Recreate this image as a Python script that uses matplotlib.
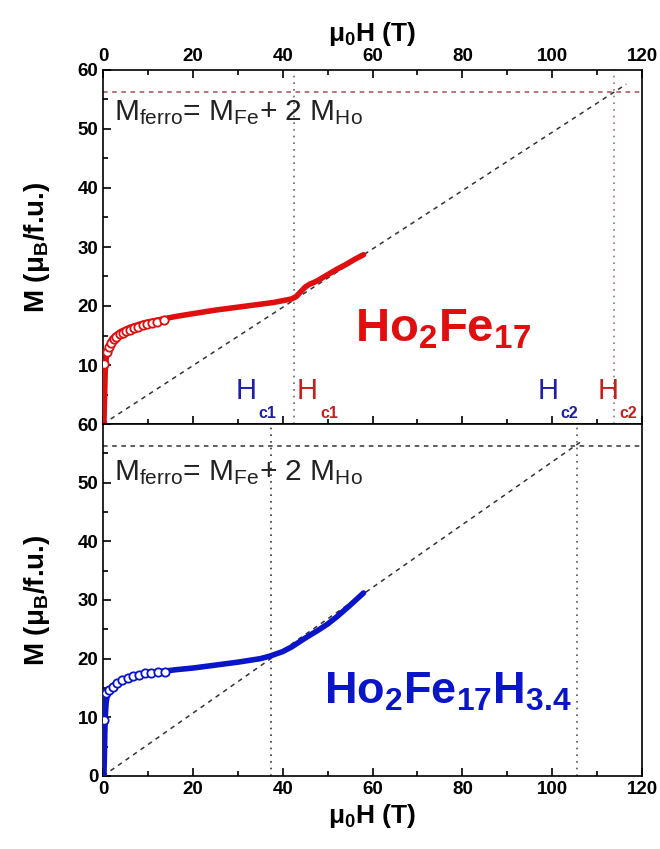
import matplotlib
matplotlib.use("Agg")
import matplotlib.pyplot as plt
from matplotlib.ticker import MultipleLocator

plt.rcParams['font.family'] = ['Liberation Sans', 'DejaVu Sans']
plt.rcParams['mathtext.fontset'] = 'custom'
plt.rcParams['mathtext.rm'] = 'Liberation Sans'
plt.rcParams['mathtext.it'] = 'Liberation Sans:italic'
plt.rcParams['mathtext.bf'] = 'Liberation Sans:bold'

# Ho2Fe17 (painel de cima)
ho_line_x = [0.2, 0.3, 0.4, 0.5, 0.7, 1.0, 1.5, 2, 3, 4, 6, 8, 10, 12, 14, 16, 20, 25, 30, 35, 38, 40,
             42, 43, 44, 45, 46, 47, 48, 50, 52, 54, 56, 58]
ho_line_m = [0, 3, 6, 9, 11, 12.6, 13.8, 14.5, 15.2, 15.7, 16.4, 16.9, 17.3, 17.6, 17.9, 18.2, 18.7, 19.3,
             19.8, 20.3, 20.6, 20.9, 21.2, 21.6, 22.4, 23.2, 23.7, 24.0, 24.4, 25.3, 26.2, 27.0, 27.9, 28.7]
ho_circ_x = [0.3, 0.9, 1.3, 1.8, 2.4, 3.0, 3.7, 4.4, 5.2, 6.0, 6.9, 7.8, 8.8, 9.8, 10.9, 12.0, 13.5]
ho_circ_m = [10.2, 12.2, 13.0, 13.8, 14.4, 14.8, 15.2, 15.5, 15.8, 16.0, 16.3, 16.5, 16.7, 16.9, 17.1, 17.3, 17.6]

# Ho2Fe17H3.4 (painel de baixo)
hoh_line_x = [0.2, 0.3, 0.4, 0.5, 0.7, 1.0, 1.5, 2, 3, 5, 8, 11, 14, 16, 20, 25, 30, 35, 37,
              40, 42, 45, 48, 50, 52, 55, 58]
hoh_line_m = [0, 3, 7, 10, 12.5, 14.0, 14.8, 15.3, 15.9, 16.6, 17.2, 17.6, 17.9, 18.1, 18.4, 18.9, 19.4,
              20.0, 20.4, 21.2, 22.0, 23.5, 24.9, 25.9, 27.1, 29.1, 31.2]
hoh_circ_x = [0.2, 0.7, 1.3, 2.2, 3.2, 4.3, 5.5, 6.7, 8.0, 9.3, 10.7, 12.2, 13.8]
hoh_circ_m = [9.6, 14.1, 14.7, 15.2, 15.8, 16.3, 16.7, 17.0, 17.3, 17.5, 17.6, 17.7, 17.8]

# linhas de referencia: M_ferro, diagonal e campos criticos
m_ferro = [56.3, 56.2]
diag_end_x = [116.5, 107.0]
diag_end_m = [57.6, 57.3]
hc_top = [42.5, 113.7]
hc_bot = [37.5, 105.5]

# rotulos H_c (x do H, x do indice, texto, cor)
hc_labels = [(29.5, 34.5, 'c1', '#1e1eaa'), (43.2, 48.3, 'c1', '#c42020'),
             (96.8, 101.8, 'c2', '#1e1eaa'), (110.2, 115.0, 'c2', '#c42020')]

red = '#e00e0e'
blue = '#0a14c8'

fig = plt.figure(figsize=(6.6, 8.49), dpi=100)
left, width = 103 / 660, (642 - 103) / 660
ax1 = fig.add_axes([left, 1 - 424 / 849, width, 354 / 849])
ax2 = fig.add_axes([left, 1 - 776 / 849, width, 352 / 849])

for ax in (ax1, ax2):
    ax.set_xlim(0, 120)
    ax.set_ylim(0, 60)
    ax.xaxis.set_major_locator(MultipleLocator(20))
    ax.xaxis.set_minor_locator(MultipleLocator(10))
    ax.yaxis.set_major_locator(MultipleLocator(10))
    ax.yaxis.set_minor_locator(MultipleLocator(5))
    ax.tick_params(which='both', direction='in', right=False, width=1.2)
    ax.tick_params(which='major', length=6, labelsize=13.5)
    ax.tick_params(which='minor', length=3.5)
    for s in ax.spines.values():
        s.set_linewidth(1.2)
    ax.set_ylabel(r'M (μ$_{\mathbf{B}}$/f.u.)', fontsize=20, fontweight='bold', labelpad=18)

# painel de cima
ax1.tick_params(axis='x', which='both', top=True, bottom=True, labeltop=True, labelbottom=False)
ax1.set_yticks([10, 20, 30, 40, 50, 60])
ax1.xaxis.set_label_position('top')
ax1.set_xlabel(r'μ$_{\mathbf{0}}$H (T)', fontsize=19, fontweight='bold', labelpad=5)

ax1.axhline(m_ferro[0], color='#a05050', ls=(0, (3, 3)), lw=1.1)
ax1.plot([0, diag_end_x[0]], [0, diag_end_m[0]], color='#333333', ls=(0, (3, 3)), lw=1.1)
ax1.axvline(hc_top[0], color='#666666', ls=(0, (1, 3)), lw=1.2)
ax1.axvline(hc_top[1], color='#a07070', ls=(0, (1, 3)), lw=1.2)
ax1.plot(ho_line_x, ho_line_m, color=red, lw=4, solid_capstyle='round', zorder=3)
ax1.plot(ho_circ_x, ho_circ_m, 'o', ms=6, mfc='white', mec=red, mew=1.3, zorder=4)

ax1.text(2.5, 51.5, r'M$_{\mathrm{ferro}}$= M$_{\mathrm{Fe}}$+ 2 M$_{\mathrm{Ho}}$', fontsize=21.5,
         color='#222222', va='baseline')
ax1.text(56, 14.0, r'$\mathbf{Ho_2Fe_{17}}$', fontsize=34, color=red, va='baseline')
for xh, xs, sub, col in hc_labels:
    ax1.text(xh, 4.3, 'H', fontsize=21, color=col, va='baseline')
    ax1.text(xs, 1.1, sub, fontsize=11.5, fontweight='bold', color=col, va='baseline')

# painel de baixo
for lab in ax1.get_xticklabels() + ax1.get_yticklabels() + ax2.get_xticklabels() + ax2.get_yticklabels():
    lab.set_fontweight('bold')
ax2.set_xlabel(r'μ$_{\mathbf{0}}$H (T)', fontsize=19, fontweight='bold', labelpad=3)
ax2.axhline(m_ferro[1], color='#333333', ls=(0, (3, 3)), lw=1.1)
ax2.plot([0, diag_end_x[1]], [0, diag_end_m[1]], color='#333333', ls=(0, (3, 3)), lw=1.1)
ax2.axvline(hc_bot[0], color='#333333', ls=(0, (1, 3)), lw=1.2)
ax2.axvline(hc_bot[1], color='#555555', ls=(0, (1, 3)), lw=1.2)
ax2.plot(hoh_line_x, hoh_line_m, color=blue, lw=4, solid_capstyle='round', zorder=3)
ax2.plot(hoh_circ_x, hoh_circ_m, 'o', ms=6, mfc='white', mec=blue, mew=1.3, zorder=4)

ax2.text(2.5, 50.5, r'M$_{\mathrm{ferro}}$= M$_{\mathrm{Fe}}$+ 2 M$_{\mathrm{Ho}}$', fontsize=21.5,
         color='#222222', va='baseline')
ax2.text(49.2, 12.3, r'$\mathbf{Ho_2Fe_{17}H_{3.4}}$', fontsize=32.5, color=blue, va='baseline')

fig.savefig('out.png', dpi=100)
